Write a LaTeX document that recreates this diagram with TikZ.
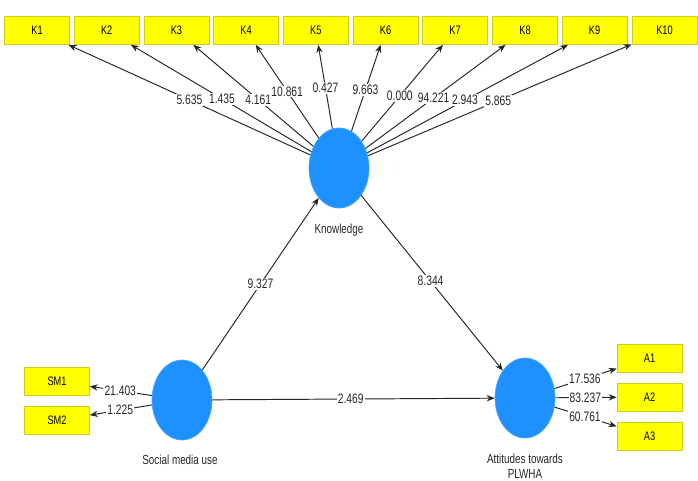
\documentclass[tikz,border=0pt]{standalone}
\usepackage{fontspec}
\setmainfont{Liberation Sans}
\newfontfamily\pathfont[FakeStretch=0.75]{Liberation Sans}
\usetikzlibrary{shapes.geometric}
\usetikzlibrary{arrows.meta}
\definecolor{lvblue}{RGB}{30,144,255}
\definecolor{mvyellow}{RGB}{255,255,0}
\definecolor{mvedge}{RGB}{205,205,40}
\tikzstyle{latent}=[ellipse, fill=lvblue, draw=lvblue!80!white, line width=0.4pt, minimum width=1.2cm, minimum height=1.6cm, inner sep=0pt]
\tikzstyle{manifest}=[rectangle, fill=mvyellow, draw=mvedge, line width=0.4pt, minimum width=1.3cm, minimum height=0.56cm, inner sep=0pt, font=\pathfont\fontsize{7}{8}\selectfont]
\tikzstyle{path_arrow}=[draw=black!85, line width=0.55pt, -{Stealth[length=4.5pt,width=3.6pt]}]
\tikzstyle{coef}=[fill=white, inner sep=0.6pt, font=\pathfont\fontsize{7.8}{8}\selectfont, text=black!85]
\tikzstyle{lv_name}=[anchor=north, inner sep=0pt, align=center, font=\pathfont\fontsize{7.5}{8.2}\selectfont, text=black!85]

\begin{document}
\begin{tikzpicture}[x=0.02cm, y=-0.02cm]
\useasboundingbox (0,0) rectangle (698,481);
\node[manifest] (k1) at (37,30.5){K1};
\node[manifest] (k2) at (106.7,30.5){K2};
\node[manifest] (k3) at (176.4,30.5){K3};
\node[manifest] (k4) at (246,30.5){K4};
\node[manifest] (k5) at (315.8,30.5){K5};
\node[manifest] (k6) at (385.5,30.5){K6};
\node[manifest] (k7) at (455,30.5){K7};
\node[manifest] (k8) at (525,30.5){K8};
\node[manifest] (k9) at (594.6,30.5){K9};
\node[manifest] (k10) at (664.5,30.5){K10};
\node[manifest] (sm1) at (57,381.5){SM1};
\node[manifest] (sm2) at (57,420.5){SM2};
\node[manifest] (a1) at (649.5,358){A1};
\node[manifest] (a2) at (649.5,397){A2};
\node[manifest] (a3) at (649.5,436.5){A3};
\node[latent] (kn) at (339,168){};
\node[latent] (sm) at (182,400){};
\node[latent] (att) at (525,398){};
\node[lv_name] (kn_name) at (339,224){Knowledge};
\node[lv_name] (sm_name) at (180,455){Social media use};
\node[lv_name] (att_name) at (525,454){Attitudes towards\\PLWHA};
\draw[path_arrow](kn) -- node[coef, pos=0.5]{5.635} (k1);
\draw[path_arrow](kn) -- node[coef, pos=0.495]{1.435} (k2);
\draw[path_arrow](kn) -- node[coef, pos=0.46]{4.161} (k3);
\draw[path_arrow](kn) -- node[coef, pos=0.5]{10.861} (k4);
\draw[path_arrow](kn) -- node[coef, pos=0.485]{0.427} (k5);
\draw[path_arrow](kn) -- node[coef, pos=0.477]{9.663} (k6);
\draw[path_arrow](kn) -- node[coef, pos=0.47]{0.000} (k7);
\draw[path_arrow](kn) -- node[coef, pos=0.486]{94.221} (k8);
\draw[path_arrow](kn) -- node[coef, pos=0.487]{2.943} (k9);
\draw[path_arrow](kn) -- node[coef, pos=0.494]{5.865} (k10);
\draw[path_arrow](sm) -- node[coef, pos=0.51]{21.403} (sm1);
\draw[path_arrow](sm) -- node[coef, pos=0.51]{1.225} (sm2);
\draw[path_arrow](att) -- node[coef, pos=0.49]{17.536} (a1);
\draw[path_arrow](att) -- node[coef, pos=0.49]{83.237} (a2);
\draw[path_arrow](att) -- node[coef, pos=0.49]{60.761} (a3);
\draw[path_arrow](sm) -- node[coef, pos=0.5]{9.327} (kn);
\draw[path_arrow](kn) -- node[coef, pos=0.49]{8.344} (att);
\draw[path_arrow](sm) -- node[coef, pos=0.49]{2.469} (att);
\end{tikzpicture}
\end{document}
